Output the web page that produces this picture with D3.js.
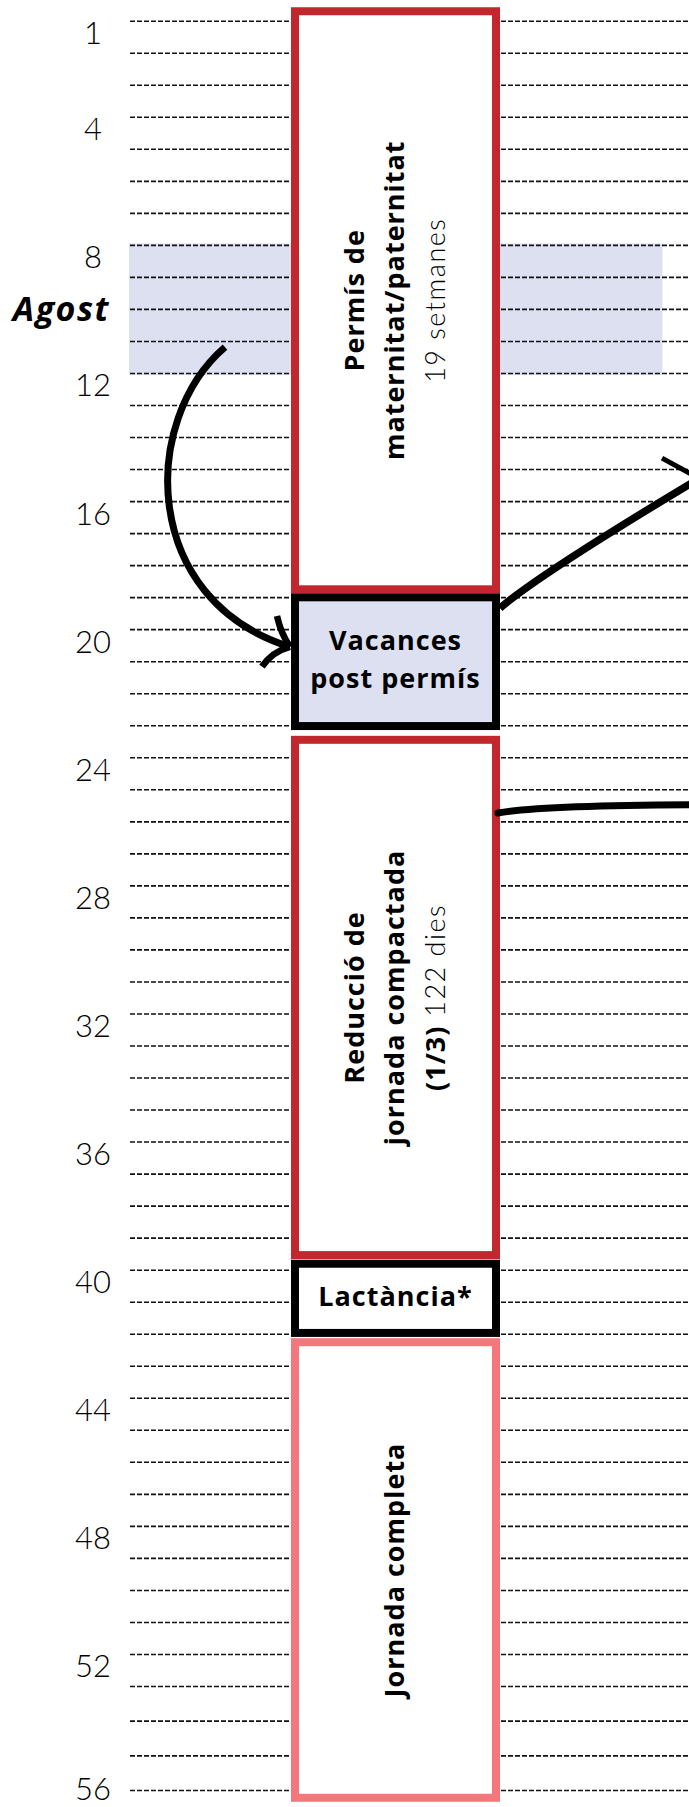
<!DOCTYPE html>
<html>
<head>
<meta charset="utf-8">
<script src="https://cdn.jsdelivr.net/npm/d3@7"></script>
<style>
  html, body { margin: 0; padding: 0; background: #fff; }
  svg { display: block; }
</style>
</head>
<body>
<svg id="chart" width="689" height="1807"></svg>
<script>
// weeks since birth (one dashed line each) and the ones that get a number
var weeks = [1,2,3,4,5,6,7,8,9,10,11,12,13,14,15,16,17,18,19,20,21,22,23,24,25,26,27,28,
             29,30,31,32,33,34,35,36,37,38,39,40,41,42,43,44,45,46,47,48,49,50,51,52,53,54,55,56];
var labelWeeks = [1,4,8,12,16,20,24,28,32,36,40,44,48,52,56];

// month band
var bandLabel = "Agost";
var bandStart = 8;
var bandEnd = 12;

// phases, start / end in weeks
var phaseKind  = ["permis", "vacances", "reduccio", "lactancia", "jornada"];
var phaseStart = [0.58, 18.88, 23.33, 39.69, 42.14];
var phaseEnd   = [18.88, 23.15, 39.67, 42.10, 56.34];
var phaseTitle = [
    ["Permís de", "maternitat/paternitat"],
    ["Vacances", "post permís"],
    ["Reducció de", "jornada compactada", "(1/3)"],
    ["Lactància*"],
    ["Jornada completa"]
];
var phaseNote = ["19 setmanes", null, "122 dies", null, null];

var W = 689, H = 1807;
var BOX_L = 291, BOX_R = 500, BOX_SW = 8;
var CX = (BOX_L + BOX_R) / 2;
var LAVENDER = "#dde0f0";
var STYLE = {
    permis:    { stroke: "#c1272d", fill: "#fff",   vertical: true,  noteInline: false },
    vacances:  { stroke: "#000",    fill: LAVENDER, vertical: false },
    reduccio:  { stroke: "#c1272d", fill: "#fff",   vertical: true,  noteInline: true },
    lactancia: { stroke: "#000",    fill: "#fff",   vertical: false },
    jornada:   { stroke: "#f4777b", fill: "#fff",   vertical: true }
};
var BOLD = "'Open Sans', 'Noto Sans', sans-serif";
var LIGHT = "Lato, 'Open Sans', sans-serif";
var FS = 27;

var svg = d3.select("#chart");

// the last few lines in the original are a bit further apart
var y = d3.scaleLinear().domain([1, 53, 56]).range([20.7, 1686, 1790]);

var phases = phaseKind.map(function (k, i) {
    return { kind: k, start: phaseStart[i], end: phaseEnd[i], title: phaseTitle[i], note: phaseNote[i] };
});

// Agost band
svg.append("rect")
    .attr("x", 129)
    .attr("y", y(bandStart) - 1.5)
    .attr("width", 662.5 - 129)
    .attr("height", y(bandEnd) - y(bandStart) + 3.5)
    .attr("fill", LAVENDER);

// dashed week lines
var grid = svg.append("g")
    .attr("transform", "translate(130,0)")
    .call(d3.axisRight(y).tickValues(weeks).tickSize(W - 130).tickFormat(""));
grid.select(".domain").remove();
grid.selectAll(".tick line")
    .attr("stroke", "#111")
    .attr("stroke-width", 1.6)
    .attr("stroke-dasharray", "5 2");

// week numbers
var axisL = svg.append("g")
    .attr("transform", "translate(93,0)")
    .call(d3.axisLeft(y).tickValues(labelWeeks).tickSize(0).tickPadding(0));
axisL.select(".domain").remove();
axisL.selectAll(".tick text")
    .attr("x", 0)
    .attr("dy", null)
    .attr("y", function (d) { return Math.min(23, H - 8 - y(d)); })
    .attr("text-anchor", "middle")
    .attr("fill", "#000")
    .style("font-family", LIGHT)
    .style("font-weight", 300)
    .style("font-size", "31px");

svg.append("text")
    .attr("x", 110)
    .attr("y", (y(bandStart) + y(bandEnd)) / 2 + 12)
    .attr("text-anchor", "end")
    .style("font-family", BOLD)
    .style("font-weight", 700)
    .style("font-style", "italic")
    .style("font-size", "34px")
    .style("letter-spacing", "1.5px")
    .attr("fill", "#000")
    .text(bandLabel);

// phase boxes
var box = svg.append("g").selectAll("g.phase")
    .data(phases)
    .join("g")
    .attr("class", "phase");

box.append("rect")
    .attr("x", BOX_L + BOX_SW / 2)
    .attr("width", BOX_R - BOX_L - BOX_SW)
    .attr("y", function (d) { return y(d.start) + BOX_SW / 2; })
    .attr("height", function (d) { return y(d.end) - y(d.start) - BOX_SW; })
    .attr("fill", function (d) { return STYLE[d.kind].fill; })
    .attr("stroke", function (d) { return STYLE[d.kind].stroke; })
    .attr("stroke-width", BOX_SW);

box.each(function (d) {
    var st = STYLE[d.kind];
    var cy = (y(d.start) + y(d.end)) / 2;
    var lines = d.title.map(function (t) { return [{ t: t, bold: true }]; });
    if (d.note) {
        if (st.noteInline) lines[lines.length - 1].push({ t: "\u00a0" + d.note, bold: false });
        else lines.push([{ t: d.note, bold: false }]);
    }
    var lh = st.vertical ? 40.5 : 38;
    var g = d3.select(this).append("g")
        .attr("transform", st.vertical
            ? "translate(" + CX + "," + cy + ") rotate(-90)"
            : "translate(" + CX + "," + cy + ")");
    var n = lines.length;
    lines.forEach(function (parts, i) {
        var txt = g.append("text")
            .attr("x", 0)
            .attr("y", (i - (n - 1) / 2) * lh + (st.vertical ? 0.33 : 0.28) * FS)
            .attr("text-anchor", "middle")
            .attr("fill", "#000")
            .style("font-size", FS + "px");
        parts.forEach(function (p) {
            txt.append("tspan")
                .style("font-family", p.bold ? BOLD : LIGHT)
                .style("font-weight", p.bold ? 700 : 300)
                .style("letter-spacing", p.bold ? "1px" : "1.5px")
                .text(p.t);
        });
    });
});

// hand drawn arrows
var arrows = svg.append("g")
    .attr("fill", "none")
    .attr("stroke", "#000")
    .attr("stroke-linecap", "butt");

// from the August band round to the holidays box
arrows.append("path")
    .attr("stroke-width", 7)
    .attr("d", "M225," + y(11.19) + " C140," + y(13.47) + " 140," + y(19.09) + " " + (BOX_L - 1) + "," + y(20.55));
arrows.append("path")
    .attr("stroke-width", 6.5)
    .attr("d", "M277," + y(19.59) + " Q281," + y(20.15) + " " + (BOX_L - 1) + "," + y(20.55) +
               " M262," + y(21.17) + " Q272," + y(20.7) + " " + (BOX_L - 1) + "," + y(20.55));

// out of the right side of the holidays box
arrows.append("path")
    .attr("stroke-width", 7.5)
    .attr("d", "M" + BOX_R + "," + y(19.34) + " Q540," + y(18.27) + " 700," + y(15.28));
arrows.append("path")
    .attr("stroke-width", 5)
    .attr("d", "M662," + y(14.66) + " L700," + y(15.31));

// level line out of the reduced hours box
arrows.append("path")
    .attr("stroke-width", 7)
    .attr("stroke-linecap", "round")
    .attr("d", "M" + (BOX_R - 2) + "," + y(25.74) + " Q540," + y(25.5) + " 700," + y(25.48));
</script>
</body>
</html>
